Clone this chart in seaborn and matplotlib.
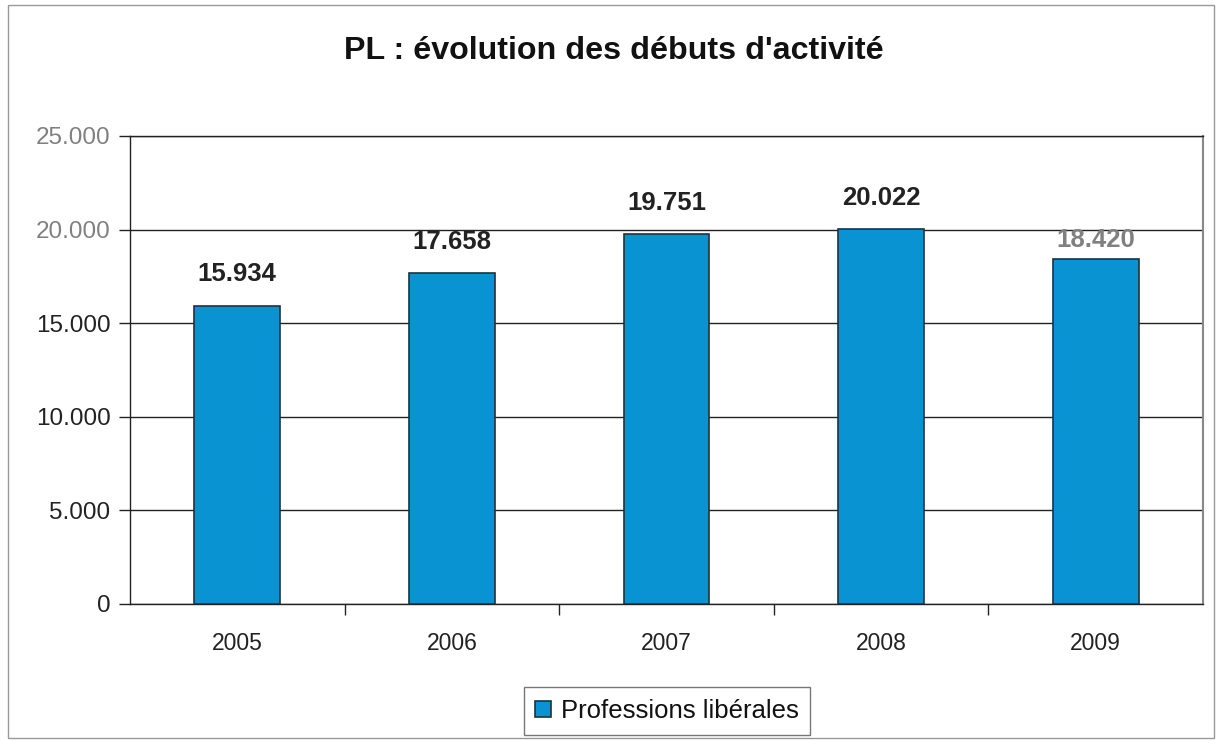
import matplotlib
matplotlib.use("Agg")
import matplotlib.pyplot as plt
import matplotlib.ticker as mticker
from matplotlib.patches import Rectangle
import seaborn as sns
import pandas as pd

years = ["2005", "2006", "2007", "2008", "2009"]
values = [15934, 17658, 19751, 20022, 18420]
series_name = "Professions libérales"
title = "PL : évolution des débuts d'activité"

sns.set_theme(style="white")
plt.rcParams['font.family'] = ['Liberation Sans', 'DejaVu Sans']

df = pd.DataFrame({"year": years, "value": values})

fig = plt.figure(figsize=(12.22, 7.40), dpi=100)
ax = fig.add_axes([130/1222, 1-604/740, (1203-130)/1222, (604-136)/740])

sns.barplot(data=df, x="year", y="value", color="#0A93D3", saturation=1,
            width=0.4, edgecolor="#1c3340", linewidth=1.2, label=series_name,
            ax=ax, zorder=3)

ax.set_ylim(0, 25000)
ax.set_xlim(-0.5, 4.5)
ax.set_yticks(range(0, 25001, 5000))
fmt = lambda v, p: f"{v:,.0f}".replace(",", ".")
ax.yaxis.set_major_formatter(mticker.FuncFormatter(fmt))
ax.grid(axis="y", color="#222222", linewidth=1.0, zorder=0)
ax.set_axisbelow(True)
ax.set_xlabel("")
ax.set_ylabel("")

for s in ["left", "bottom", "top"]:
    ax.spines[s].set_color("#222222")
    ax.spines[s].set_linewidth(1.0)
ax.spines["right"].set_color("#888888")
ax.spines["right"].set_linewidth(1.5)

ax.tick_params(axis="y", which="major", length=8, width=1, color="#222222",
               labelsize=17.5, pad=6, left=True, right=False, direction="out")
ax.tick_params(axis="x", which="major", length=0, labelsize=16.5, pad=20,
               labelcolor="#222222")
ax.set_xticks([i + 0.5 for i in range(len(years) - 1)], minor=True)
ax.tick_params(axis="x", which="minor", length=8, width=1, color="#222222",
               bottom=True, direction="out")

ytick_colors = ["#222222", "#222222", "#222222", "#222222", "#808080", "#808080"]
for lab, c in zip(ax.get_yticklabels(), ytick_colors):
    lab.set_color(c)

label_colors = ["#222222", "#222222", "#222222", "#222222", "#808080"]
texts = ax.bar_label(ax.containers[0], labels=[fmt(v, None) for v in values],
                     padding=14, fontsize=18.5, fontweight="bold")
for t, c in zip(texts, label_colors):
    t.set_color(c)
# last label sits closer to its bar in the reference
texts[-1].xyann = (0, 5)

fig.text(614/1222, 1-51/740, title, ha="center", va="center",
         fontsize=23.2, fontweight="bold", color="#111111")

leg = ax.legend(loc="center", bbox_to_anchor=(667/1222, 1-711/740),
                bbox_transform=fig.transFigure, fontsize=18.5, frameon=True,
                fancybox=False, edgecolor="#555555", handlelength=0.6,
                handleheight=0.6, handletextpad=0.4, borderpad=0.45)
leg.get_frame().set_linewidth(1.0)
for txt in leg.get_texts():
    txt.set_color("#111111")

fig.patches.append(Rectangle((8/1222, 2/740), 1206/1222, 733/740,
                             transform=fig.transFigure, fill=False,
                             edgecolor="#999999", linewidth=1.0))

fig.savefig("out.png", dpi=100, facecolor="white")
